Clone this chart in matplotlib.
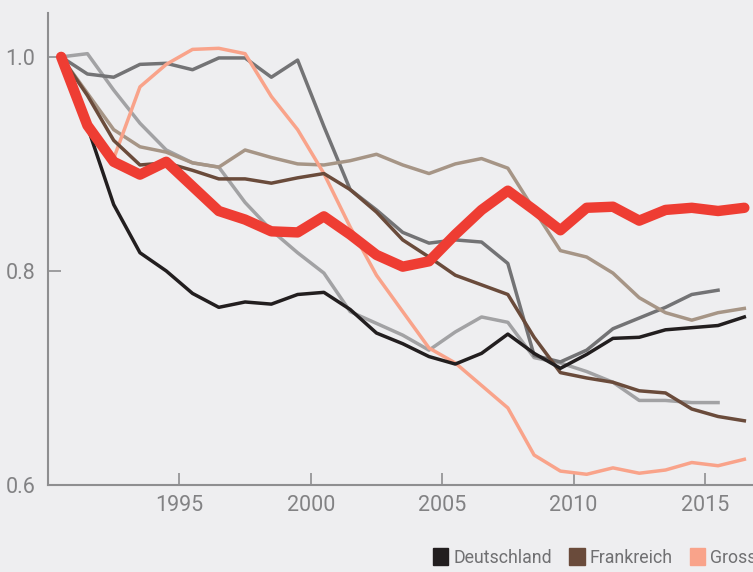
import numpy as np
import matplotlib
matplotlib.use('Agg')
import matplotlib.pyplot as plt
from matplotlib.patches import Patch

# years 1990..2016, drawn at mid-year
years = np.arange(1990, 2017)

deutschland = [1.0, 0.935, 0.862, 0.817, 0.800, 0.779, 0.766, 0.771, 0.769, 0.778,
               0.780, 0.764, 0.742, 0.732, 0.720, 0.713, 0.723, 0.741, 0.723, 0.709,
               0.722, 0.737, 0.738, 0.745, 0.747, 0.749, 0.757]
frankreich = [1.0, 0.964, 0.922, 0.899, 0.901, 0.894, 0.886, 0.886, 0.882, 0.887,
              0.891, 0.876, 0.855, 0.829, 0.813, 0.796, 0.787, 0.778, 0.738, 0.705,
              0.700, 0.696, 0.688, 0.686, 0.671, 0.664, 0.660]
gross = [1.0, 0.935, 0.905, 0.972, 0.993, 1.007, 1.008, 1.003, 0.963, 0.932,
         0.891, 0.841, 0.796, 0.762, 0.728, 0.714, 0.693, 0.672, 0.628, 0.613,
         0.610, 0.616, 0.611, 0.614, 0.621, 0.618, 0.624]
schnitt = [1.0, 0.936, 0.902, 0.890, 0.902, 0.879, 0.856, 0.848, 0.837, 0.836,
           0.851, 0.834, 0.815, 0.804, 0.809, 0.834, 0.857, 0.875, 0.857, 0.838,
           0.859, 0.860, 0.847, 0.857, 0.859, 0.856, 0.859]
hellbraun = [1.0, 0.966, 0.932, 0.916, 0.911, 0.901, 0.897, 0.913, 0.906, 0.900,
             0.899, 0.903, 0.909, 0.899, 0.891, 0.900, 0.905, 0.896, 0.857, 0.819,
             0.813, 0.798, 0.775, 0.761, 0.754, 0.761, 0.765]
dunkelgrau = [1.0, 0.984, 0.981, 0.993, 0.994, 0.988, 0.999, 0.999, 0.981, 0.997,
              0.935, 0.876, 0.857, 0.836, 0.826, 0.829, 0.827, 0.807, 0.721, 0.715,
              0.726, 0.746, 0.756, 0.766, 0.778, 0.782]
hellgrau = [1.0, 1.003, 0.969, 0.938, 0.913, 0.901, 0.897, 0.864, 0.838, 0.817,
            0.798, 0.762, 0.751, 0.740, 0.726, 0.743, 0.757, 0.752, 0.719, 0.714,
            0.706, 0.696, 0.679, 0.679, 0.677, 0.677]

legend_labels = ['Deutschland', 'Frankreich', 'Grossbritannien']

bg = '#eeeef0'
axis_col = '#8e8e90'
text_col = '#828284'

plt.rcParams['font.family'] = ['Roboto', 'DejaVu Sans']

fig = plt.figure(figsize=(7.53, 5.72), dpi=100, facecolor=bg)
ax = fig.add_axes([48/753, 87/572, 705/753, 472/572], facecolor=bg)

x = years + 0.5
lw = 2.5
ax.plot(x[:len(hellgrau)], hellgrau, color='#a2a2a4', lw=lw)
ax.plot(x[:len(dunkelgrau)], dunkelgrau, color='#737375', lw=lw)
ax.plot(x, hellbraun, color='#a69586', lw=lw)
ax.plot(x, gross, color='#f9a38a', lw=lw)
ax.plot(x, frankreich, color='#6a4b3b', lw=lw)
ax.plot(x, deutschland, color='#221e1f', lw=lw)
ax.plot(x, schnitt, color='#ee3d33', lw=7.5, solid_capstyle='round',
        solid_joinstyle='round')

ax.set_xlim(1990, 2016.83)
ax.set_ylim(0.6, 1.041)
ax.set_xticks([1995, 2000, 2005, 2010, 2015])
ax.set_yticks([0.6, 0.8, 1.0])
ax.set_yticklabels(['0.6', '0.8', '1.0'])

for s in ['top', 'right']:
    ax.spines[s].set_visible(False)
for s in ['left', 'bottom']:
    ax.spines[s].set_color(axis_col)
    ax.spines[s].set_linewidth(1.5)

ax.tick_params(direction='in', length=9, width=1.2, color=axis_col,
               labelcolor=text_col, labelsize=15.5)
ax.tick_params(axis='x', pad=7)
ax.tick_params(axis='y', pad=9)

handles = [Patch(color='#221e1f'), Patch(color='#6a4b3b'), Patch(color='#f9a38a')]
fig.legend(handles, legend_labels, loc='lower left', bbox_to_anchor=(417/753, -11/572),
           ncol=3, frameon=False, handlelength=0.85, handleheight=1.1,
           handletextpad=0.28, columnspacing=1.0, labelcolor='#707072',
           prop={'size': 12.8})

fig.savefig('out.png', dpi=100, facecolor=bg)
